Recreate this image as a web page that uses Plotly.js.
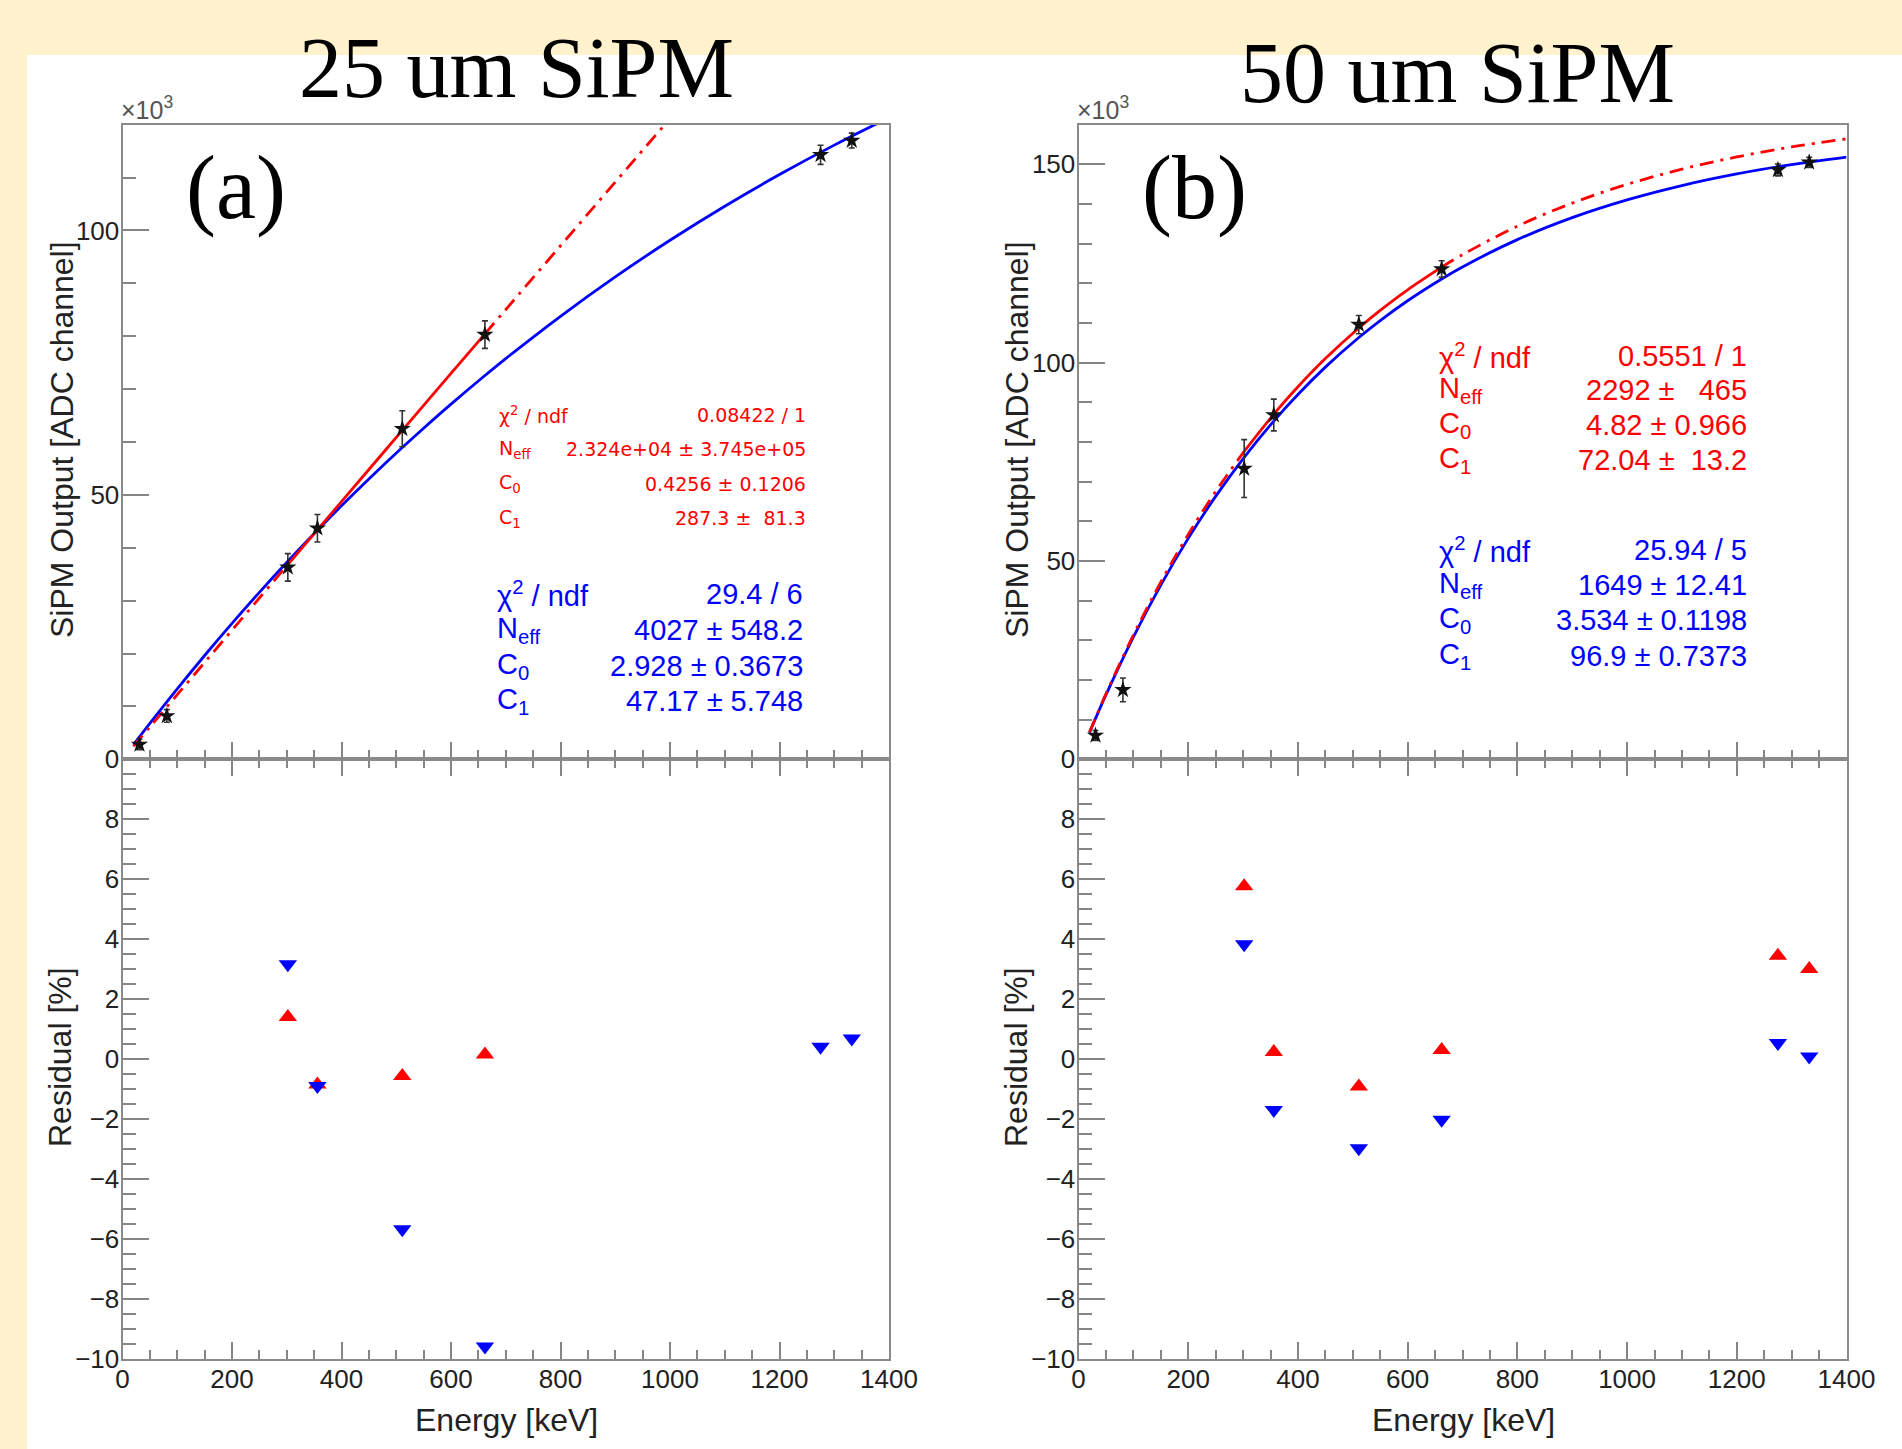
<!DOCTYPE html>
<html><head><meta charset="utf-8">
<script src="https://cdn.plot.ly/plotly-3.0.1.min.js"></script>
<style>html,body{margin:0;padding:0;background:#FFF2CC;} #chart{width:1902px;height:1449px;}</style>
</head><body><div id="chart"></div>
<script>
// ---------- data (output in units of 10^3 ADC channels) ----------
const energy = [31, 81, 302, 356, 511, 662, 1275, 1332];
const outA   = [2.8, 8.2, 36.3, 43.7, 62.5, 80.3, 114.3, 117.0];
const errA   = [1.0, 1.2, 2.6, 2.6, 3.4, 2.6, 1.8, 1.4];
const outB   = [6.0, 17.5, 73.3, 86.8, 109.6, 123.6, 148.6, 150.5];
const errB   = [1.25, 3.0, 7.3, 4.0, 2.3, 2.1, 1.5, 1.3];

// fitted curves as drawn
const curveE     = [20, 50, 100, 150, 200, 250, 302, 356, 400, 450, 511, 550, 600, 662, 700, 800, 900, 1000, 1100, 1200, 1300, 1400];
const redCurveA  = [2.445, 6.111, 12.216, 18.316, 24.410, 30.499, 36.825, 43.388, 48.731, 54.798, 62.192, 66.913, 72.963, 80.457, 85.046, 97.107, 109.146, 121.162, 133.157, 145.13, 157.08, 169.01];
const blueCurveA = [2.742, 6.782, 13.321, 19.626, 25.708, 31.572, 37.442, 43.313, 47.937, 53.007, 58.944, 62.610, 67.160, 72.572, 75.769, 83.772, 91.220, 98.148, 104.590, 110.572, 116.138, 121.323];
const redCurveB  = [6.801, 16.480, 31.316, 44.672, 56.690, 67.513, 77.624, 87.016, 93.917, 101.024, 108.739, 113.180, 118.364, 124.077, 127.228, 134.415, 140.238, 144.954, 148.781, 151.876, 154.388, 156.423];
const blueCurveB = [6.704, 16.238, 30.825, 43.931, 55.701, 66.279, 76.141, 85.281, 91.985, 98.876, 106.341, 110.625, 115.621, 121.114, 124.141, 131.018, 136.568, 141.047, 144.662, 147.580, 149.936, 151.836];
const redFitRange = [302, 662];

// residuals [%]
const resEnergy  = [302, 356, 511, 662, 1275, 1332];
const resRedA    = [1.40, -0.85, -0.57, 0.15];          // first four energies
const resBlueA   = [3.16, -0.90, -5.68, -9.60, 0.41, 0.68];
const resRedB    = [5.76, 0.23, -0.92, 0.30, 3.44, 3.00];
const resBlueB   = [3.83, -1.70, -2.98, -2.03, 0.53, 0.08];

// stats boxes
const statLabels = ['χ<sup>2</sup> / ndf', 'N<sub>eff</sub>', 'C<sub>0</sub>', 'C<sub>1</sub>'];
const statsRedA  = ['0.08422 / 1', '2.324e+04 ± 3.745e+05', '0.4256 ± 0.1206', '287.3 ±  81.3'];
const statsBlueA = ['29.4 / 6', '4027 ± 548.2', '2.928 ± 0.3673', '47.17 ± 5.748'];
const statsRedB  = ['0.5551 / 1', '2292 ±   465', '4.82 ± 0.966', '72.04 ±  13.2'];
const statsBlueB = ['25.94 / 5', '1649 ± 12.41', '3.534 ± 0.1198', '96.9 ± 0.7373'];

const titles = ['25 um SiPM', '50 um SiPM'];
const panelTags = ['(a)', '(b)'];
const yTitleTop = 'SiPM Output [ADC channel]';
const yTitleBottom = 'Residual [%]';
const xTitle = 'Energy [keV]';

// ---------- layout helpers ----------
const W = 1902, H = 1449;
const px = x => x / W;
const py = y => 1 - y / H;
const RED = '#ff0000', BLUE = '#0000ff';
const SANS = 'Liberation Sans, Arial, Helvetica, sans-serif';
const SERIF = 'Liberation Serif, Times New Roman, serif';
const tickColor = '#858585', frameColor = '#8a8a8a';
const tickFont = {family: SANS, size: 26, color: '#222'};

function seg(xs, ys, lo, hi) {
  const x = [], y = [];
  xs.forEach((e, i) => { if (e >= lo && e <= hi) { x.push(e); y.push(ys[i]); } });
  return {x, y};
}

const traces = [];
function curves(red, blue, xa, ya) {
  const dash = '14px,7px,3px,7px';
  const lo = seg(curveE, red, 0, redFitRange[0]);
  const mid = seg(curveE, red, redFitRange[0], redFitRange[1]);
  const hi = seg(curveE, red, redFitRange[1], 2000);
  traces.push({x: curveE, y: blue, xaxis: xa, yaxis: ya, mode: 'lines', line: {color: BLUE, width: 2.8, shape: 'spline'}, hoverinfo: 'skip'});
  traces.push({x: lo.x, y: lo.y, xaxis: xa, yaxis: ya, mode: 'lines', line: {color: RED, width: 2.8, dash: dash, shape: 'spline'}, hoverinfo: 'skip'});
  traces.push({x: mid.x, y: mid.y, xaxis: xa, yaxis: ya, mode: 'lines', line: {color: RED, width: 2.8, shape: 'spline'}, hoverinfo: 'skip'});
  traces.push({x: hi.x, y: hi.y, xaxis: xa, yaxis: ya, mode: 'lines', line: {color: RED, width: 2.8, dash: dash, shape: 'spline'}, hoverinfo: 'skip'});
}
function points(vals, errs, xa, ya) {
  traces.push({x: energy, y: vals, xaxis: xa, yaxis: ya, mode: 'markers',
    marker: {symbol: 'star', size: 13, color: '#111'},
    error_y: {type: 'data', array: errs, visible: true, color: '#333', thickness: 1.6, width: 3}});
}
function residuals(vals, sym, color, xa, ya) {
  traces.push({x: resEnergy.slice(0, vals.length), y: vals, xaxis: xa, yaxis: ya, mode: 'markers',
    marker: {symbol: sym, size: 16, color: color}});
}

curves(redCurveA, blueCurveA, 'x', 'y');
points(outA, errA, 'x', 'y');
residuals(resRedA, 'triangle-up', RED, 'x2', 'y2');
residuals(resBlueA, 'triangle-down', BLUE, 'x2', 'y2');
curves(redCurveB, blueCurveB, 'x3', 'y3');
points(outB, errB, 'x3', 'y3');
residuals(resRedB, 'triangle-up', RED, 'x4', 'y4');
residuals(resBlueB, 'triangle-down', BLUE, 'x4', 'y4');

const frame = {showline: true, linecolor: frameColor, linewidth: 2, showgrid: false, zeroline: false, fixedrange: true};
function xAxis(dom, anchor, labels, mirror) {
  return Object.assign({}, frame, {domain: dom, anchor: anchor, range: [0, 1400], tickmode: 'linear', tick0: 0, dtick: 200,
    ticks: 'inside', ticklen: 17, tickwidth: 2, tickcolor: tickColor, mirror: mirror,
    minor: {tickmode: 'linear', tick0: 0, dtick: 50, ticks: 'inside', ticklen: 9, tickwidth: 2, tickcolor: tickColor},
    showticklabels: labels, tickfont: tickFont, ticklabelstandoff: -4});
}
function yTop(dom, anchor, max) {
  return Object.assign({}, frame, {domain: dom, anchor: anchor, range: [0, max], tickmode: 'linear', tick0: 0, dtick: 50,
    ticks: 'inside', ticklen: 26, tickwidth: 2, tickcolor: tickColor, mirror: true,
    minor: {tickmode: 'linear', tick0: 0, dtick: 10, ticks: 'inside', ticklen: 13, tickwidth: 2, tickcolor: tickColor},
    tickfont: tickFont, ticklabelstandoff: -4});
}
function yBot(dom, anchor) {
  return Object.assign({}, frame, {domain: dom, anchor: anchor, range: [-10, 10], tickmode: 'array',
    tickvals: [-10, -8, -6, -4, -2, 0, 2, 4, 6, 8],
    ticks: 'inside', ticklen: 26, tickwidth: 2, tickcolor: tickColor, mirror: true,
    minor: {tickmode: 'linear', tick0: 0, dtick: 0.5, ticks: 'inside', ticklen: 13, tickwidth: 2, tickcolor: tickColor},
    tickfont: tickFont, ticklabelstandoff: -4});
}

const xDomA = [px(122.5), px(889)], xDomB = [px(1078.5), px(1846.5)];
const yDomTop = [py(759.3), py(124.7)], yDomBot = [py(1358.6), py(759.3)];

const ann = [];
function txt(text, x, y, opts) {
  ann.push(Object.assign({text: text, x: px(x), y: py(y), xref: 'paper', yref: 'paper', showarrow: false,
    xanchor: 'center', yanchor: 'middle', font: {family: SANS, size: 26, color: '#222'}}, opts || {}));
}
// titles and tags
txt(titles[0], 516, 68, {font: {family: SERIF, size: 86, color: '#000'}});
txt(titles[1], 1457, 73, {font: {family: SERIF, size: 86, color: '#000'}});
txt(panelTags[0], 236, 188, {font: {family: SERIF, size: 90, color: '#000'}});
txt(panelTags[1], 1194, 188, {font: {family: SERIF, size: 90, color: '#000'}});
txt('×10<sup>3</sup>', 119, 126, {xanchor: 'left', yanchor: 'bottom', font: {family: SANS, size: 25, color: '#555'}});
txt('×10<sup>3</sup>', 1075, 126, {xanchor: 'left', yanchor: 'bottom', font: {family: SANS, size: 25, color: '#555'}});
// axis titles
txt(yTitleTop, 62, 440, {textangle: -90, font: {family: SANS, size: 32, color: '#222'}});
txt(yTitleTop, 1017, 440, {textangle: -90, font: {family: SANS, size: 32, color: '#222'}});
txt(yTitleBottom, 60, 1057, {textangle: -90, font: {family: SANS, size: 32, color: '#222'}});
txt(yTitleBottom, 1016, 1057, {textangle: -90, font: {family: SANS, size: 32, color: '#222'}});
txt(xTitle, 506, 1420, {font: {family: SANS, size: 32, color: '#222'}});
txt(xTitle, 1463, 1420, {font: {family: SANS, size: 32, color: '#222'}});

function stats(values, left, right, ys, font) {
  values.forEach((v, i) => {
    txt(statLabels[i], left, ys[i], {xanchor: 'left', font: font});
    txt(v.replace(/ /g, '\u00a0'), right, ys[i], {xanchor: 'right', font: font});
  });
}
stats(statsRedA, 497, 808, [415, 449, 484, 518], {family: 'DejaVu Sans, sans-serif', size: 19, color: RED});
stats(statsBlueA, 495, 805, [594, 630, 666, 701], {family: SANS, size: 29, color: BLUE});
stats(statsRedB, 1437, 1749, [356, 390, 425, 460], {family: SANS, size: 29, color: RED});
stats(statsBlueB, 1437, 1749, [550, 585, 620, 656], {family: SANS, size: 29, color: BLUE});

const layout = {
  width: W, height: H, autosize: false, margin: {l: 0, r: 0, t: 0, b: 0, pad: 0},
  paper_bgcolor: '#FFF2CC', plot_bgcolor: '#ffffff', showlegend: false,
  font: {family: SANS, color: '#222'},
  xaxis: xAxis(xDomA, 'y', false, true),
  yaxis: yTop(yDomTop, 'x', 120),
  xaxis2: xAxis(xDomA, 'y2', true, 'ticks'),
  yaxis2: yBot(yDomBot, 'x2'),
  xaxis3: xAxis(xDomB, 'y3', false, true),
  yaxis3: yTop(yDomTop, 'x3', 160),
  xaxis4: xAxis(xDomB, 'y4', true, 'ticks'),
  yaxis4: yBot(yDomBot, 'x4'),
  shapes: [{type: 'rect', xref: 'paper', yref: 'paper', x0: px(27), x1: 1, y0: 0, y1: py(55),
    fillcolor: '#ffffff', line: {width: 0}, layer: 'below'}],
  annotations: ann
};
Plotly.newPlot('chart', traces, layout, {displayModeBar: false, staticPlot: true});
</script></body></html>
